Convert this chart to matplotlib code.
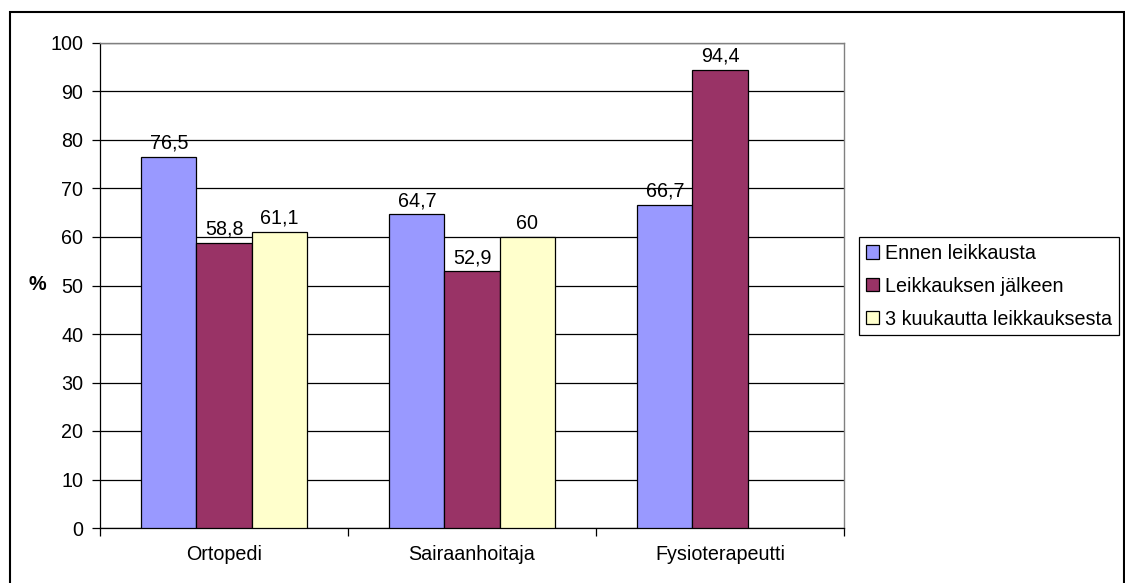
import numpy as np
import matplotlib
matplotlib.use('Agg')
import matplotlib.pyplot as plt
from matplotlib.patches import Rectangle

plt.rcParams['font.family'] = ['Liberation Sans', 'DejaVu Sans']

categories = ['Ortopedi', 'Sairaanhoitaja', 'Fysioterapeutti']
series_names = ['Ennen leikkausta', 'Leikkauksen jälkeen', '3 kuukautta leikkauksesta']
ennen = [76.5, 64.7, 66.7]
jalkeen = [58.8, 52.9, 94.4]
kuukautta = [61.1, 60.0, np.nan]
colors = ['#9999FF', '#993366', '#FFFFCC']
yticks = list(range(0, 101, 10))

fig = plt.figure(figsize=(11.25, 5.83), dpi=100)
ax = fig.add_axes([100 / 1125, 1 - 528 / 583, 744 / 1125, 485 / 583])

x = np.arange(len(categories))
w = 0.222
fs = 14.2
for i, (vals, name, c) in enumerate(zip([ennen, jalkeen, kuukautta], series_names, colors)):
    bars = ax.bar(x + (i - 1) * w, vals, w, color=c, edgecolor='black', linewidth=0.9,
                  label=name, zorder=3)
    labels = ['' if np.isnan(v) else ('%g' % v).replace('.', ',') for v in vals]
    ax.bar_label(bars, labels=labels, padding=3, fontsize=fs, zorder=4)

ax.set_xlim(-0.5, 2.5)
ax.set_ylim(0, 100)
ax.set_yticks(yticks)
ax.set_yticklabels([str(t) for t in yticks], fontsize=fs)
ax.yaxis.grid(True, color='black', linewidth=0.9, zorder=0)
ax.set_axisbelow(True)

ax.set_xticks(x)
ax.set_xticklabels(categories, fontsize=fs)
ax.tick_params(axis='x', which='major', length=0, pad=12)
ax.set_xticks([-0.5, 0.5, 1.5, 2.5], minor=True)
ax.tick_params(axis='x', which='minor', length=6, width=0.9, direction='out')
ax.tick_params(axis='y', length=6, width=0.9, direction='out', pad=6)

for s in ['top', 'right']:
    ax.spines[s].set_color('#808080')
    ax.spines[s].set_linewidth(1.0)
for s in ['left', 'bottom']:
    ax.spines[s].set_color('black')
    ax.spines[s].set_linewidth(0.9)

fig.text(37 / 1125, 1 - 285 / 583, '%', fontsize=fs, fontweight='bold', ha='center', va='center')

leg = fig.legend(loc='upper left', bbox_to_anchor=(859 / 1125, 1 - 237 / 583), fontsize=fs,
                 frameon=True, fancybox=False, framealpha=1, edgecolor='black',
                 handlelength=0.65, handleheight=0.65, handletextpad=0.3,
                 labelspacing=0.7, borderpad=0.35, borderaxespad=0)
leg.get_frame().set_linewidth(0.9)

fig.patches.append(Rectangle((10 / 1125, -0.1), 1114 / 1125, 1.1 - 12 / 583,
                             transform=fig.transFigure, fill=False,
                             edgecolor='black', linewidth=1.5))

fig.savefig('out.png', dpi=100)
